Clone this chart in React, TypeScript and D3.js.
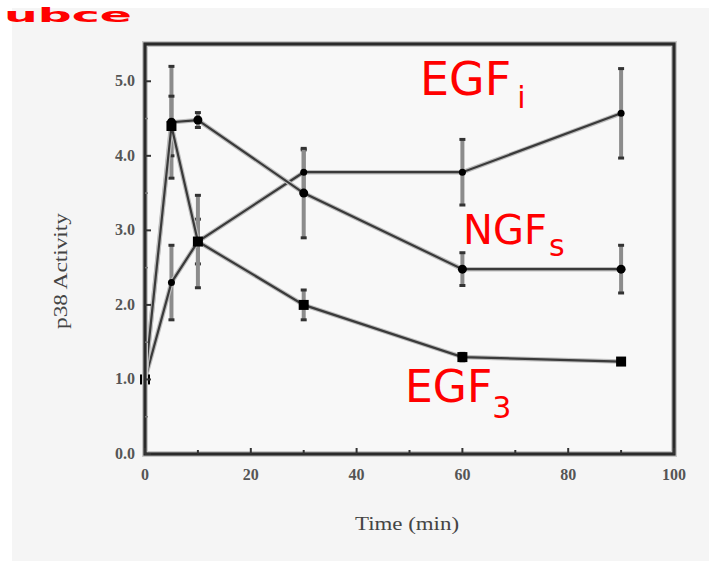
import React from "react";
import * as d3 from "d3";

const times = [0, 5, 10, 30, 60, 90];
const egfI = [1.0, 2.3, 2.85, 3.78, 3.78, 4.57];
const egfIErr = [0, 0.5, 0.3, 0.3, 0.44, 0.6];
const ngfS = [1.0, 4.45, 4.48, 3.5, 2.48, 2.48];
const ngfSErr = [0, 0.75, 0.1, 0.6, 0.22, 0.32];
const egf3 = [1.0, 4.4, 2.85, 2.0, 1.3, 1.24];
const egf3Err = [0, 0.4, 0.62, 0.2, 0.05, 0];

const xMajorTicks = [0, 20, 40, 60, 80, 100];
const xMinorTicks = [10, 30, 50, 70, 90];
const yMajorTicks = [0, 1, 2, 3, 4, 5];
const yMinorTicks = [0.5, 1.5, 2.5, 3.5, 4.5];

const seriesList = [
  { name: "EGFi", values: egfI, errs: egfIErr, marker: "dot" },
  { name: "NGFs", values: ngfS, errs: ngfSErr, marker: "circle" },
  { name: "EGF3", values: egf3, errs: egf3Err, marker: "square" },
];

const W = 709;
const H = 561;
const L = 145, T = 44, R = 674, B = 454;

export default function App() {
  const x = d3.scaleLinear().domain([0, 100]).range([L, R]);
  const y = d3.scaleLinear().domain([0, 5.5]).range([B, T]);
  const line = d3
    .line<number>()
    .x((_, i) => x(times[i]))
    .y((v) => y(v));
  const serif = "'Liberation Serif', 'DejaVu Serif', serif";
  const txt = "#444444";

  return (
    <svg width={W} height={H} style={{ position: "absolute", left: 0, top: 0 }}>
      <rect x={0} y={0} width={W} height={H} fill="#ffffff" />
      <rect x={12} y={8} width={W - 12} height={H - 8} fill="#f5f5f5" />
      <rect x={L} y={T} width={R - L} height={B - T} fill="#f8f8f8" />

      {/* error bars */}
      {seriesList.map((s) =>
        s.values.map((v, i) =>
          s.errs[i] > 0 ? (
            <g key={s.name + "e" + i}>
              <line x1={x(times[i])} x2={x(times[i])} y1={y(v + s.errs[i])} y2={y(v - s.errs[i])} stroke="#8c8c8c" strokeWidth={4} />
              <line x1={x(times[i]) - 3} x2={x(times[i]) + 3} y1={y(v + s.errs[i])} y2={y(v + s.errs[i])} stroke="#333" strokeWidth={3} />
              <line x1={x(times[i]) - 3} x2={x(times[i]) + 3} y1={y(v - s.errs[i])} y2={y(v - s.errs[i])} stroke="#333" strokeWidth={3} />
            </g>
          ) : null
        )
      )}

      {/* lines */}
      {seriesList.map((s) => (
        <g key={s.name + "l"}>
          <path d={line(s.values) || ""} fill="none" stroke="#bdbdbd" strokeWidth={4.5} />
          <path d={line(s.values) || ""} fill="none" stroke="#3a3a3a" strokeWidth={2.2} />
        </g>
      ))}

      {/* markers */}
      {seriesList.map((s) =>
        s.values.map((v, i) => {
          const cx = x(times[i]);
          const cy = y(v);
          if (s.marker === "square")
            return <rect key={s.name + "m" + i} x={cx - 5} y={cy - 5} width={10} height={10} fill="#000" />;
          if (s.marker === "circle")
            return <circle key={s.name + "m" + i} cx={cx} cy={cy} r={4.5} fill="#000" />;
          return <circle key={s.name + "m" + i} cx={cx} cy={cy} r={3.5} fill="#000" />;
        })
      )}

      {/* frame */}
      <rect x={L} y={T} width={R - L} height={B - T} fill="none" stroke="#c8c8c8" strokeWidth={6} />
      <rect x={L} y={T} width={R - L} height={B - T} fill="none" stroke="#2a2a2a" strokeWidth={3.2} />

      {/* ticks */}
      {xMajorTicks.map((t) => (
        <line key={"xt" + t} x1={x(t)} x2={x(t)} y1={B} y2={B - 6} stroke="#333" strokeWidth={2} />
      ))}
      {xMinorTicks.map((t) => (
        <line key={"xm" + t} x1={x(t)} x2={x(t)} y1={B} y2={B - 4} stroke="#333" strokeWidth={2} />
      ))}
      {yMajorTicks.map((t) => (
        <line key={"yt" + t} x1={L} x2={L + 6} y1={y(t)} y2={y(t)} stroke="#333" strokeWidth={2} />
      ))}
      {yMinorTicks.map((t) => (
        <line key={"ym" + t} x1={L} x2={L + 3} y1={y(t)} y2={y(t)} stroke="#777" strokeWidth={1.5} />
      ))}

      {/* tick labels */}
      {xMajorTicks.map((t) => (
        <text key={"xl" + t} x={x(t)} y={480} textAnchor="middle" fontFamily={serif} fontSize={16} fontWeight="bold" fill="#555">
          {t}
        </text>
      ))}
      {yMajorTicks.map((t) => (
        <text key={"yl" + t} x={135} y={y(t) + 5} textAnchor="end" fontFamily={serif} fontSize={16} fontWeight="bold" fill="#555">
          {t.toFixed(1)}
        </text>
      ))}

      {/* axis titles */}
      <text x={407} y={530} textAnchor="middle" fontFamily={serif} fontSize={19} fill={txt} textLength={104} lengthAdjust="spacingAndGlyphs">
        Time (min)
      </text>
      <text transform="translate(67,271) rotate(-90)" textAnchor="middle" fontFamily={serif} fontSize={19} fill={txt} textLength={116} lengthAdjust="spacingAndGlyphs">
        p38 Activity
      </text>

      {/* handwritten annotations */}
      <g fill="#ff0000" fontFamily="'DejaVu Sans', sans-serif">
        <text x={4} y={22} fontSize={20} textLength={128} lengthAdjust="spacingAndGlyphs" fontWeight="bold">ubce</text>
        <text x={420} y={95} fontSize={46}>
          EGF
          <tspan dx={6} dy={13} fontSize={30}>i</tspan>
        </text>
        <text x={463} y={244} fontSize={40}>
          NGF
          <tspan dx={2} dy={12} fontSize={30}>s</tspan>
        </text>
        <text x={405} y={402} fontSize={44}>
          EGF
          <tspan dy={16} fontSize={30}>3</tspan>
        </text>
      </g>
    </svg>
  );
}
